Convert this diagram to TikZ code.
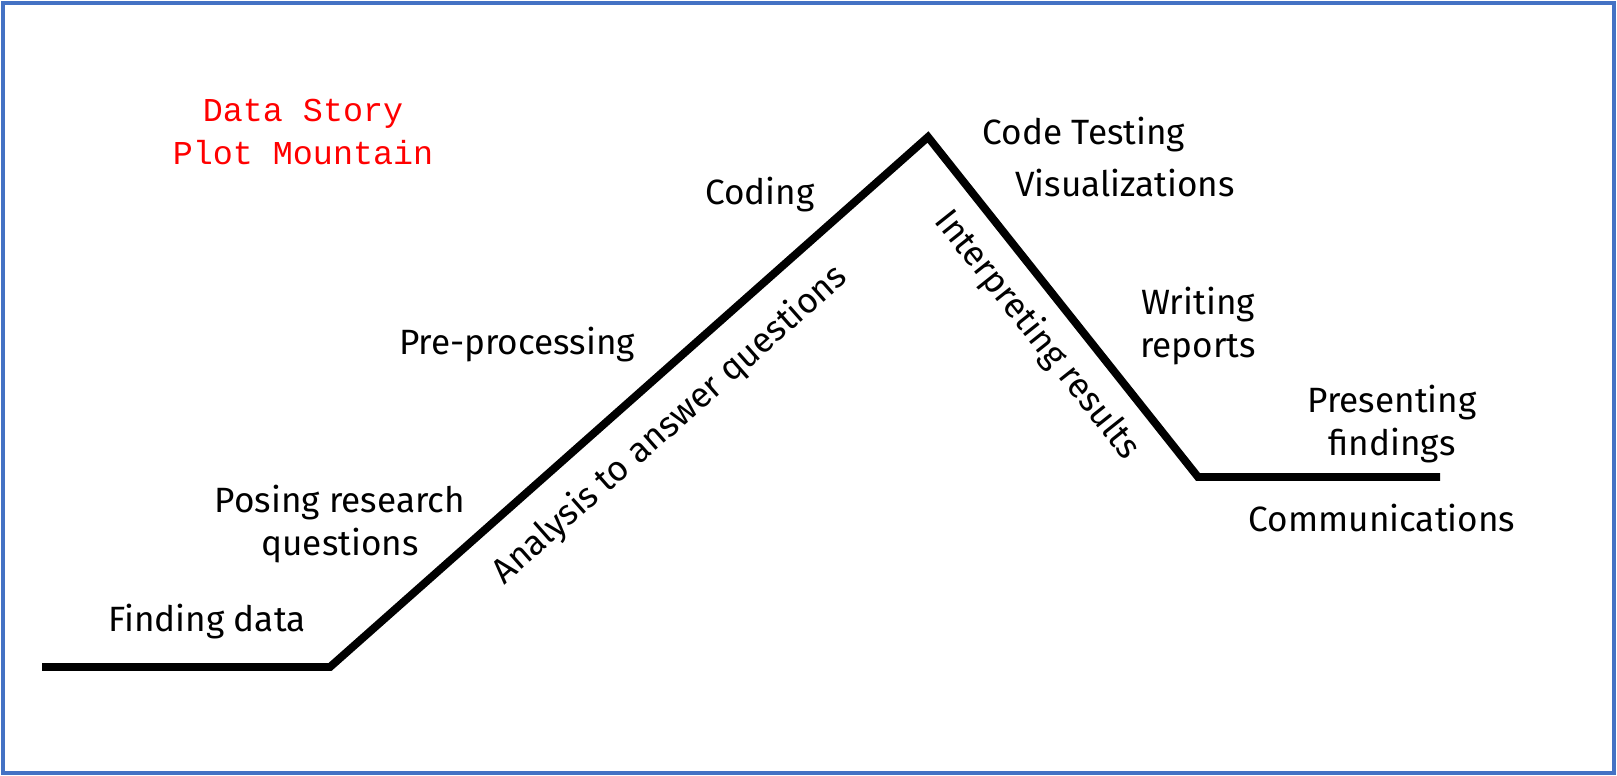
\documentclass[tikz,border=0pt]{standalone}
\usepackage{fontspec}
\setmainfont{Fira Sans}
\newfontfamily\monof{Liberation Mono}
\begin{document}
\begin{tikzpicture}[x=0.02cm,y=-0.02cm,
  lbl/.style={font=\fontsize{20}{24}\selectfont,inner sep=0pt,align=center},
  ttl/.style={font=\monof\fontsize{19}{25}\selectfont,text=red,align=center,inner sep=0pt},
  mount/.style={line width=4.5pt,line join=miter}]
\useasboundingbox (0,0) rectangle (1617,776);
\draw[draw={rgb,255:red,68;green,114;blue,196},line width=2pt] (3,3) rectangle (1614,773);
\coordinate (a) at (42,667);
\coordinate (b) at (330,667);
\coordinate (c) at (928,137);
\coordinate (d) at (1198,477);
\coordinate (e) at (1440,477);
\draw[mount] (a) -- (b) -- (c) -- (d) -- (e);
\node[ttl] (t) at (303,132) {Data Story\\Plot Mountain};
\node[lbl] (n1) at (207,622) {Finding data};
\node[lbl] (n2) at (340,524) {Posing research\\questions};
\node[lbl] (n3) at (517,345) {Pre-processing};
\node[lbl] (n4) at (760,195) {Coding};
\node[lbl,rotate=41.5] (n5) at (670,425) {Analysis to answer questions};
\node[lbl] (n6) at (1084,135) {Code Testing};
\node[lbl] (n7) at (1125,183) {Visualizations};
\node[lbl,rotate=-51.5] (n8) at (1037,335) {Interpreting results};
\node[lbl] (n9) at (1198,326) {Writing\\reports};
\node[lbl] (n10) at (1392,424) {Presenting\\findings};
\node[lbl] (n11) at (1382,518) {Communications};
\end{tikzpicture}
\end{document}
